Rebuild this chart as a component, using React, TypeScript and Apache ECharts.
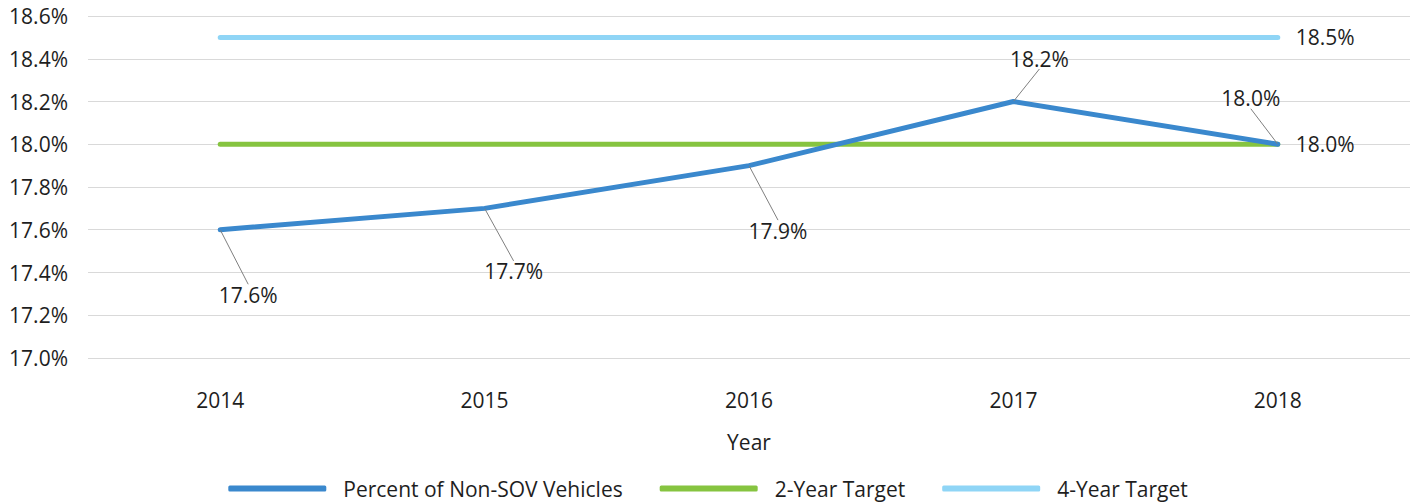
import React, { useEffect, useRef } from "react";
import * as echarts from "echarts";

const years = ["2014", "2015", "2016", "2017", "2018"];
const nonSov = [17.6, 17.7, 17.9, 18.2, 18.0];
const target2 = [18.0, 18.0, 18.0, 18.0, 18.0];
const target4 = [18.5, 18.5, 18.5, 18.5, 18.5];
const labelOffsets: [number, number][] = [
  [28, 81],
  [29, 79],
  [29, 81],
  [26, -27],
  [-27, -30],
];

const FONT = "'Open Sans', 'Noto Sans', sans-serif";
const TXT = "#1e1e1e";
const FS = 21;

export default function App() {
  const ref = useRef<HTMLDivElement>(null);
  useEffect(() => {
    document.body.style.margin = "0";
    if (!ref.current) return;
    const chart = echarts.init(ref.current, undefined, { renderer: "svg" });
    const fmt = (v: number) => v.toFixed(1) + "%";
    chart.setOption({
      animation: false,
      textStyle: { fontFamily: FONT },
      grid: { left: 88, right: 6, top: 16, bottom: 144, containLabel: false },
      xAxis: {
        type: "category",
        data: years,
        boundaryGap: true,
        name: "Year",
        nameLocation: "middle",
        nameGap: 73,
        nameTextStyle: { fontSize: FS, color: TXT, fontFamily: FONT },
        axisLine: { show: false },
        axisTick: { show: false },
        axisLabel: { fontSize: FS, color: TXT, margin: 31, fontFamily: FONT },
      },
      yAxis: {
        type: "value",
        min: 17.0,
        max: 18.6,
        interval: 0.2,
        axisLine: { show: false },
        axisTick: { show: false },
        splitLine: { lineStyle: { color: "#d9d9d9", width: 1 } },
        axisLabel: {
          fontSize: FS,
          color: TXT,
          margin: 20,
          fontFamily: FONT,
          formatter: (v: number) => fmt(v),
        },
      },
      legend: {
        bottom: -2,
        left: "center",
        itemWidth: 98,
        itemHeight: 6,
        itemGap: 37,
        icon: "roundRect",
        textStyle: { fontSize: FS, color: TXT, fontFamily: FONT, padding: [0, 0, 0, 12] },
        data: ["Percent of Non-SOV Vehicles", "2-Year Target", "4-Year Target"],
      },
      series: [
        {
          name: "2-Year Target",
          type: "line",
          data: target2,
          symbol: "none",
          showSymbol: false,
          lineStyle: { color: "#86c440", width: 5, cap: "round" },
          itemStyle: { color: "#86c440" },
          z: 2,
          label: { show: false },
          endLabel: {
            show: true,
            formatter: (p: any) => fmt(p.value),
            fontSize: FS,
            color: TXT,
            fontFamily: FONT,
            distance: 18,
          },
        },
        {
          name: "4-Year Target",
          type: "line",
          data: target4,
          symbol: "none",
          showSymbol: false,
          lineStyle: { color: "#8fd5f6", width: 5, cap: "round" },
          itemStyle: { color: "#8fd5f6" },
          z: 2,
          endLabel: {
            show: true,
            formatter: (p: any) => fmt(p.value),
            fontSize: FS,
            color: TXT,
            fontFamily: FONT,
            distance: 18,
          },
        },
        {
          name: "Percent of Non-SOV Vehicles",
          type: "line",
          data: nonSov,
          symbol: "circle",
          symbolSize: 1,
          showSymbol: true,
          lineStyle: { color: "#3a88cd", width: 5, cap: "round", join: "round" },
          itemStyle: { color: "#3a88cd" },
          z: 3,
          label: {
            show: true,
            position: "top",
            formatter: (p: any) => fmt(p.value),
            fontSize: FS,
            color: TXT,
            fontFamily: FONT,
          },
          labelLine: { show: true, length2: 0, lineStyle: { color: "#7f7f7f", width: 1 } },
          labelLayout: (params: any) => {
            const o = labelOffsets[params.dataIndex] || [0, 0];
            return { dx: o[0], dy: o[1] };
          },
        },
      ],
    });
    return () => chart.dispose();
  }, []);
  return <div ref={ref} style={{ width: 1416, height: 502 }} />;
}
